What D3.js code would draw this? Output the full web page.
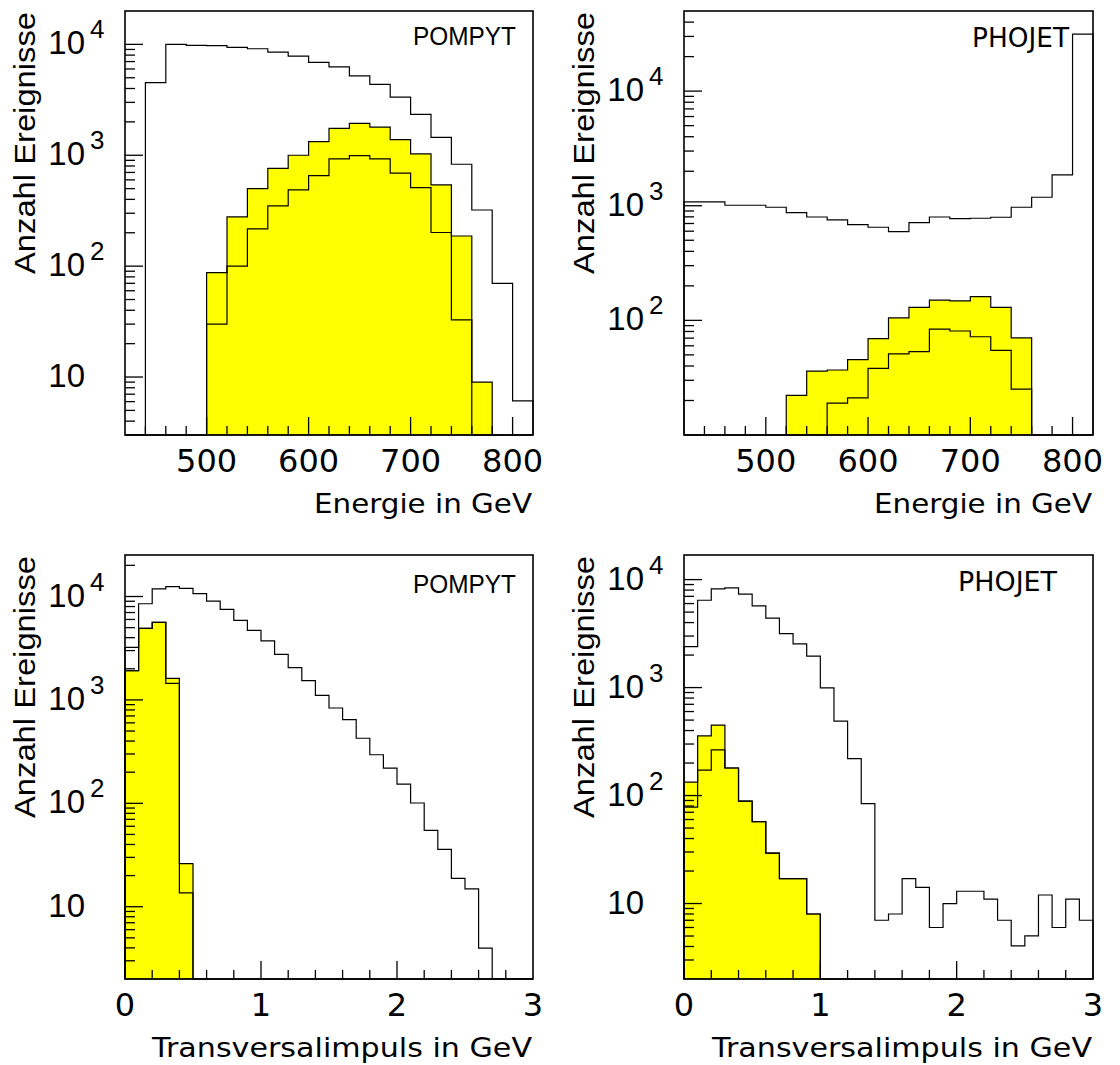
<!DOCTYPE html>
<html>
<head>
<meta charset="utf-8">
<script src="https://cdn.jsdelivr.net/npm/d3@7/dist/d3.min.js"></script>
<style>
  html, body { margin: 0; padding: 0; background: #fff; }
  svg { display: block; }
</style>
</head>
<body>
<svg id="chart" width="1120" height="1065"></svg>
<script>
// ---- Bin definitions (lower edges) ----
const energyBins = [420, 440, 460, 480, 500, 520, 540, 560, 580, 600,
                    620, 640, 660, 680, 700, 720, 740, 760, 780, 800];
const energyBinWidth = 20;
const ptBins = [0.0, 0.1, 0.2, 0.3, 0.4, 0.5, 0.6, 0.7, 0.8, 0.9,
                1.0, 1.1, 1.2, 1.3, 1.4, 1.5, 1.6, 1.7, 1.8, 1.9,
                2.0, 2.1, 2.2, 2.3, 2.4, 2.5, 2.6, 2.7, 2.8, 2.9];
const ptBinWidth = 0.1;

// ---- POMPYT, energy (events per bin) ----
const pompytEnergyAll  = [0, 4510, 10000, 9800, 9750, 9400, 9130, 8520, 7850, 6880,
                          6280, 5210, 4360, 3350, 2340, 1450, 830, 321, 70, 6.1];
const pompytEnergySelA = [0, 0, 0, 0, 87.5, 278, 500, 763, 1000, 1327,
                          1750, 1940, 1790, 1383, 1028, 540, 187, 9, 0, 0];
const pompytEnergySelB = [0, 0, 0, 0, 30, 100, 217, 349, 487, 655,
                          927, 991, 927, 689, 510, 201, 32.8, 0, 0, 0];

// ---- PHOJET, energy ----
const phojetEnergyAll  = [1079, 1079, 1010, 1010, 970, 871, 798, 752, 684, 649,
                          594, 713, 798, 772, 778, 794, 970, 1186, 1857, 31400];
const phojetEnergySelA = [0, 0, 0, 0, 0, 22.2, 36.1, 36.9, 45.4, 69.3,
                          105, 130, 150, 148, 161, 130, 70.3, 0, 0, 0];
const phojetEnergySelB = [0, 0, 0, 0, 0, 0, 0, 19.0, 21.1, 38.1,
                          51.1, 53.3, 84, 80.8, 72, 54.8, 25.1, 0, 0, 0];

// ---- POMPYT, transverse momentum ----
const pompytPtAll  = [3228, 8510, 11830, 12440, 12000, 10640, 9040, 7520, 5890, 4710,
                      3720, 2760, 2050, 1535, 1107, 835, 644, 426, 295, 219,
                      153, 100.7, 54.8, 35.9, 18.8, 14.9, 3.98, 0, 0, 0];
const pompytPtSelA = [1915, 4920, 5630, 1618, 26.1, 0, 0, 0, 0, 0,
                      0, 0, 0, 0, 0, 0, 0, 0, 0, 0,
                      0, 0, 0, 0, 0, 0, 0, 0, 0, 0];
const pompytPtSelB = [1915, 4920, 5630, 1448, 13.6, 0, 0, 0, 0, 0,
                      0, 0, 0, 0, 0, 0, 0, 0, 0, 0,
                      0, 0, 0, 0, 0, 0, 0, 0, 0, 0];

// ---- PHOJET, transverse momentum ----
const phojetPtAll  = [2400, 6440, 8200, 8380, 7330, 5710, 4390, 3160, 2540, 1955,
                      993, 489, 220, 84.3, 7.0, 8.0, 17.0, 14.1, 6.0, 10,
                      13.0, 13.0, 11.0, 7.0, 4.06, 5.02, 12.0, 6.0, 11.0, 7.0];
const phojetPtSelA = [133, 357, 449, 180, 88.7, 57.4, 29.3, 17.0, 17.0, 8.0,
                      0, 0, 0, 0, 0, 0, 0, 0, 0, 0,
                      0, 0, 0, 0, 0, 0, 0, 0, 0, 0];
const phojetPtSelB = [78, 172, 265, 180, 88.7, 57.4, 29.3, 17.0, 17.0, 8.0,
                      0, 0, 0, 0, 0, 0, 0, 0, 0, 0,
                      0, 0, 0, 0, 0, 0, 0, 0, 0, 0];

// ---- Axis labels ----
const energyTicks = [500, 600, 700, 800];
const ptTicks = [0, 1, 2, 3];
const energyTitle = "Energie in GeV";
const ptTitle = "Transversalimpuls in GeV";
const yTitle = "Anzahl Ereignisse";

const SANS = "'Liberation Sans', Arial, Helvetica, sans-serif";
const ROUND = "'DejaVu Sans', Verdana, sans-serif";
const YELLOW = "#ffff00";

const svg = d3.select("#chart");

function drawPanel(p) {
  const x = d3.scaleLinear().domain(p.xDomain).range([p.left, p.right]);
  const y = d3.scaleLog().domain(p.yDomain).range([p.bottom, p.top]).clamp(true);
  const g = svg.append("g");

  const lastEdge = p.bins[p.bins.length - 1] + p.binWidth;

  // Step outline of a histogram, closed down to the lower axis at both ends
  function stepPath(vals) {
    const path = d3.path();
    path.moveTo(x(p.bins[0]), p.bottom);
    vals.forEach((v, i) => {
      const yy = v > 0 ? y(v) : p.bottom;
      path.lineTo(x(p.bins[i]), yy);
      path.lineTo(x(p.bins[i] + p.binWidth), yy);
    });
    path.lineTo(x(lastEdge), p.bottom);
    path.closePath();
    return path.toString();
  }
  function stepLine(vals) {
    const path = d3.path();
    path.moveTo(x(p.bins[0]), p.bottom);
    vals.forEach((v, i) => {
      const yy = v > 0 ? y(v) : p.bottom;
      path.lineTo(x(p.bins[i]), yy);
      path.lineTo(x(p.bins[i] + p.binWidth), yy);
    });
    path.lineTo(x(lastEdge), p.bottom);
    return path.toString();
  }

  // selected events: yellow filled histogram with outline
  g.append("path").attr("d", stepPath(p.selA))
    .attr("fill", YELLOW).attr("stroke", "#000").attr("stroke-width", 1.2);
  // tighter selection drawn as an outline inside it
  g.append("path").attr("d", stepLine(p.selB))
    .attr("fill", "none").attr("stroke", "#000").attr("stroke-width", 1.2);
  // all events
  g.append("path").attr("d", stepLine(p.all))
    .attr("fill", "none").attr("stroke", "#000").attr("stroke-width", 1.2);

  // ---- ticks ----
  const ticks = g.append("g").attr("stroke", "#000").attr("stroke-width", 1.3);
  p.xMinor.forEach(v => {
    const isMajor = p.xTicks.includes(v);
    ticks.append("line")
      .attr("x1", x(v)).attr("x2", x(v))
      .attr("y1", p.bottom).attr("y2", p.bottom - (isMajor ? 18 : 9));
  });
  const [lo, hi] = p.yDomain;
  for (let e = Math.floor(Math.log10(lo)); e <= Math.ceil(Math.log10(hi)); e++) {
    for (let m = 1; m <= 9; m++) {
      const v = m * Math.pow(10, e);
      if (v <= lo * 1.0001 || v >= hi * 0.9999) continue;
      ticks.append("line")
        .attr("x1", p.left).attr("x2", p.left + (m === 1 ? 18 : 10))
        .attr("y1", y(v)).attr("y2", y(v));
    }
  }

  // frame
  g.append("rect")
    .attr("x", p.left).attr("y", p.top)
    .attr("width", p.right - p.left).attr("height", p.bottom - p.top)
    .attr("fill", "none").attr("stroke", "#000").attr("stroke-width", 1.6);

  // ---- x tick labels and title ----
  p.xTicks.forEach(v => {
    g.append("text").text(v)
      .attr("x", x(v)).attr("y", p.bottom + 37)
      .attr("text-anchor", "middle")
      .attr("font-family", ROUND).attr("font-size", 32).attr("fill", "#000");
  });
  g.append("text").text(p.xTitle)
    .attr("x", p.right - 1).attr("y", p.bottom + 78)
    .attr("text-anchor", "end")
    .attr("font-family", ROUND).attr("font-size", 27)
    .attr("textLength", p.xTitleLen).attr("lengthAdjust", "spacingAndGlyphs")
    .attr("fill", "#000");

  // ---- y tick labels (powers of ten) ----
  p.yLabels.forEach(ex => {
    const yy = y(Math.pow(10, ex));
    g.append("text").text("10")
      .attr("x", p.left - 40).attr("y", yy + 10)
      .attr("text-anchor", "end")
      .attr("font-family", SANS).attr("font-size", 33).attr("fill", "#000");
    if (ex !== 1) {
      g.append("text").text(ex)
        .attr("x", p.left - 35).attr("y", yy - 6)
        .attr("text-anchor", "start")
        .attr("font-family", SANS).attr("font-size", 26).attr("fill", "#000");
    }
  });

  // y title
  g.append("text").text(yTitle)
    .attr("transform", `translate(${p.left - 90},${p.top + 1}) rotate(-90)`)
    .attr("text-anchor", "end")
    .attr("font-family", SANS).attr("font-size", 30)
    .attr("textLength", 262).attr("lengthAdjust", "spacingAndGlyphs")
    .attr("fill", "#000");

  // generator label
  g.append("text").text(p.label)
    .attr("x", p.labelX).attr("y", p.labelY)
    .attr("font-family", p.labelFont).attr("font-size", 26)
    .attr("textLength", p.labelLen).attr("lengthAdjust", "spacingAndGlyphs")
    .attr("fill", "#000");
}

const energyMinor = d3.range(440, 801, 20);
const ptMinor = [0.2, 0.4, 0.6, 0.8, 1, 1.2, 1.4, 1.6, 1.8, 2, 2.2, 2.4, 2.6, 2.8];

drawPanel({
  left: 125, right: 533, top: 11, bottom: 435,
  xDomain: [420, 820], yDomain: [3, 20000],
  bins: energyBins, binWidth: energyBinWidth,
  all: pompytEnergyAll, selA: pompytEnergySelA, selB: pompytEnergySelB,
  xTicks: energyTicks, xMinor: energyMinor, xTitle: energyTitle, xTitleLen: 218,
  yLabels: [1, 2, 3, 4],
  label: "POMPYT", labelFont: SANS, labelX: 413, labelY: 45, labelLen: 103
});
drawPanel({
  left: 684, right: 1093, top: 11, bottom: 435,
  xDomain: [420, 820], yDomain: [10, 50000],
  bins: energyBins, binWidth: energyBinWidth,
  all: phojetEnergyAll, selA: phojetEnergySelA, selB: phojetEnergySelB,
  xTicks: energyTicks, xMinor: energyMinor, xTitle: energyTitle, xTitleLen: 218,
  yLabels: [2, 3, 4],
  label: "PHOJET", labelFont: ROUND, labelX: 972, labelY: 47, labelLen: 97
});
drawPanel({
  left: 125, right: 533, top: 555, bottom: 979,
  xDomain: [0, 3], yDomain: [2, 25200],
  bins: ptBins, binWidth: ptBinWidth,
  all: pompytPtAll, selA: pompytPtSelA, selB: pompytPtSelB,
  xTicks: ptTicks, xMinor: ptMinor, xTitle: ptTitle, xTitleLen: 380,
  yLabels: [1, 2, 3, 4],
  label: "POMPYT", labelFont: SANS, labelX: 413, labelY: 593, labelLen: 103
});
drawPanel({
  left: 684, right: 1093, top: 555, bottom: 979,
  xDomain: [0, 3], yDomain: [2, 16900],
  bins: ptBins, binWidth: ptBinWidth,
  all: phojetPtAll, selA: phojetPtSelA, selB: phojetPtSelB,
  xTicks: ptTicks, xMinor: ptMinor, xTitle: ptTitle, xTitleLen: 380,
  yLabels: [1, 2, 3, 4],
  label: "PHOJET", labelFont: ROUND, labelX: 958, labelY: 591, labelLen: 99
});
</script>
</body>
</html>
